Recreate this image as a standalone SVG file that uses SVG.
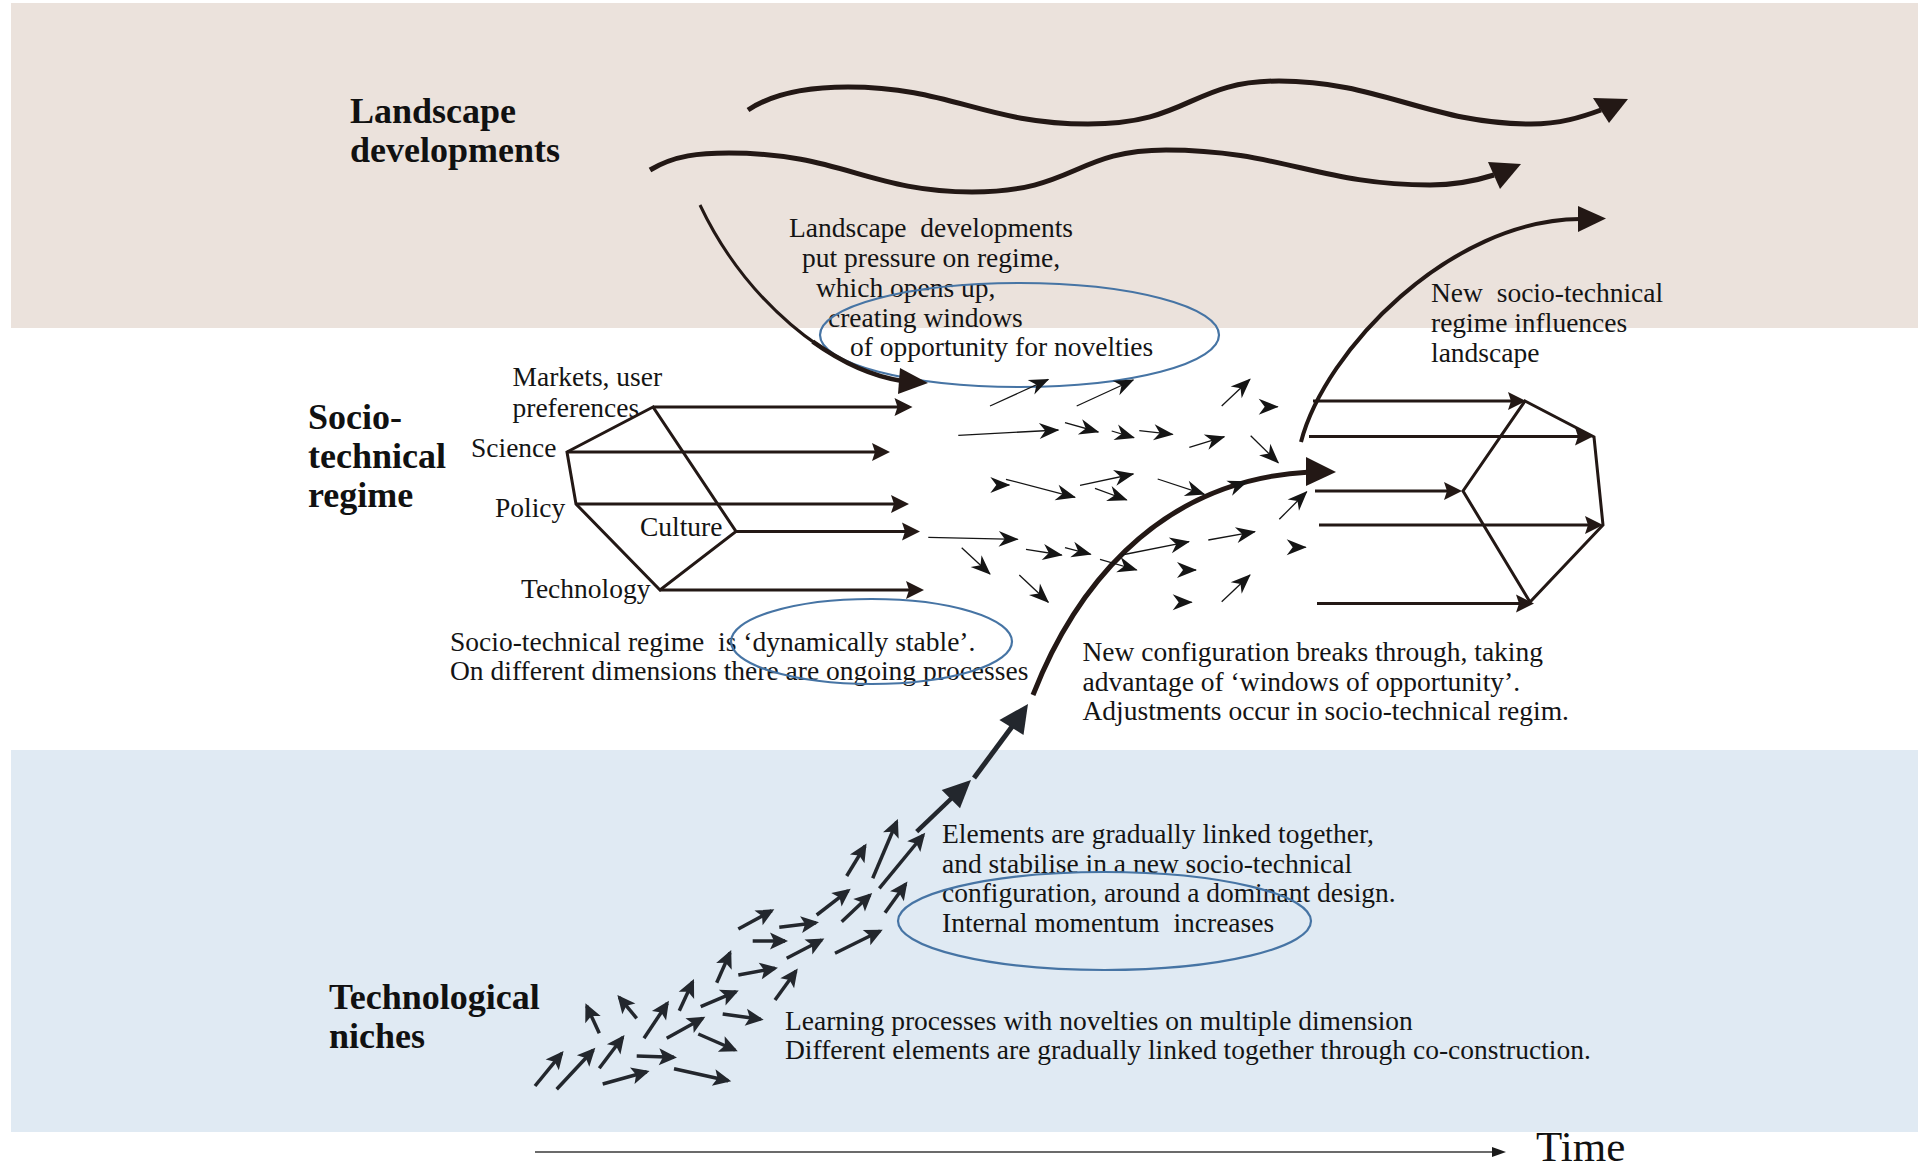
<svg xmlns="http://www.w3.org/2000/svg" width="1918" height="1170" viewBox="0 0 1918 1170">
<style>
.t{font-family:"Liberation Serif","Times New Roman",serif;font-size:27.5px;fill:#141414;white-space:pre}
.h{font-family:"Liberation Serif","Times New Roman",serif;font-size:36px;font-weight:bold;fill:#111}
.ink{fill:none;stroke:#231815}
.head{fill:#231815}
.frame{fill:none;stroke:#231815;stroke-width:3;stroke-linejoin:miter}
.ring{fill:none;stroke:#4674a4;stroke-width:2.2}
.mid line{stroke:#151515;stroke-width:1.3;marker-end:url(#mh)}
.nich line{stroke:#23272d;stroke-width:3.5;marker-end:url(#nh)}
.reg line{stroke:#231815;stroke-width:3;marker-end:url(#rh)}
</style>
<defs>
<marker id="mh" markerUnits="userSpaceOnUse" orient="auto" overflow="visible" markerWidth="1" markerHeight="1"><path d="M1,0 L-19,-8 L-13,0 L-19,8 Z" fill="#151515"/></marker>
<marker id="nh" markerUnits="userSpaceOnUse" orient="auto" overflow="visible" markerWidth="1" markerHeight="1"><path d="M3,0 L-15,-8.5 L-11,0 L-15,8.5 Z" fill="#23272d"/></marker>
<marker id="rh" markerUnits="userSpaceOnUse" orient="auto" overflow="visible" markerWidth="1" markerHeight="1"><path d="M4,0 L-14,-9 L-11,0 L-14,9 Z" fill="#231815"/></marker>
</defs>

<!-- layer bands -->
<rect x="0" y="0" width="1918" height="1170" fill="#ffffff"/>
<rect x="11" y="3" width="1907" height="325" fill="#ebe2dc"/>
<rect x="11" y="750" width="1907" height="382" fill="#e0eaf3"/>

<!-- level titles -->
<g id="landscape-title">
<text class="h" x="350" y="123">Landscape</text>
<text class="h" x="350" y="162">developments</text>
</g>
<g id="regime-title">
<text class="h" x="308" y="429">Socio-</text>
<text class="h" x="308" y="468">technical</text>
<text class="h" x="308" y="507">regime</text>
</g>
<g id="niches-title">
<text class="h" x="329" y="1009">Technological</text>
<text class="h" x="329" y="1048">niches</text>
</g>

<!-- explanatory notes -->
<g id="note-pressure">
<text class="t" x="789" y="237">Landscape  developments</text>
<text class="t" x="802" y="267">put pressure on regime,</text>
<text class="t" x="816" y="297">which opens up,</text>
<text class="t" x="828" y="326.5">creating windows</text>
<text class="t" x="850" y="356">of opportunity for novelties</text>
<ellipse class="ring" cx="1019.5" cy="335" rx="199.5" ry="52"/>
</g>
<g id="note-influence">
<text class="t" x="1431" y="302">New  socio-technical</text>
<text class="t" x="1431" y="332">regime influences</text>
<text class="t" x="1431" y="362">landscape</text>
</g>
<g id="note-stable">
<text class="t" x="450" y="651">Socio-technical regime  is ‘dynamically stable’.</text>
<text class="t" x="450" y="680">On different dimensions there are ongoing processes</text>
<ellipse class="ring" cx="871.5" cy="641.5" rx="140.5" ry="42.5"/>
</g>
<g id="note-breakthrough">
<text class="t" x="1082.5" y="661">New configuration breaks through, taking</text>
<text class="t" x="1082.5" y="691">advantage of ‘windows of opportunity’.</text>
<text class="t" x="1082.5" y="720">Adjustments occur in socio-technical regim.</text>
</g>
<g id="note-momentum">
<text class="t" x="942" y="843">Elements are gradually linked together,</text>
<text class="t" x="942" y="872.5">and stabilise in a new socio-technical</text>
<text class="t" x="942" y="902">configuration, around a dominant design.</text>
<text class="t" x="942" y="931.5">Internal momentum  increases</text>
<ellipse class="ring" cx="1104.5" cy="921" rx="206.5" ry="49"/>
</g>
<g id="note-learning">
<text class="t" x="785" y="1029.5">Learning processes with novelties on multiple dimension</text>
<text class="t" x="785" y="1058.5">Different elements are gradually linked together through co-construction.</text>
</g>

<!-- current regime: five dimensions -->
<g id="regime-old">
<text class="t" x="512.5" y="386">Markets, user</text>
<text class="t" x="512.5" y="417">preferences</text>
<text class="t" x="471" y="457">Science</text>
<text class="t" x="495" y="517">Policy</text>
<text class="t" x="640" y="536">Culture</text>
<text class="t" x="521" y="598">Technology</text>
<path class="frame" d="M653,407 L567,452 L576,504 L660,590 L736,531.5 Z"/>
<g class="reg">
<line x1="653" y1="407" x2="908.5" y2="407"/>
<line x1="567" y1="452" x2="886" y2="452"/>
<line x1="576" y1="504" x2="905" y2="504"/>
<line x1="736" y1="531.5" x2="916" y2="531.5"/>
<line x1="660" y1="590" x2="920" y2="590"/>
</g>
</g>

<!-- new regime -->
<g id="regime-new">
<path class="frame" d="M1525,401 L1594,437 L1603,525 L1530,602 L1463,491 Z"/>
<g class="reg">
<line x1="1313" y1="401" x2="1522" y2="401"/>
<line x1="1309" y1="436.5" x2="1589" y2="436.5"/>
<line x1="1315" y1="491" x2="1458" y2="491"/>
<line x1="1319" y1="525" x2="1599" y2="525"/>
<line x1="1317" y1="603.5" x2="1530" y2="603.5"/>
</g>
</g>

<g id="connectors">
<!-- landscape waves -->
<path class="ink" stroke-width="5" d="M748,110 C772,94 808,87 848,87 C950,87 985,124 1088,124 C1190,124 1190,81 1279,81 C1380,81 1430,124 1531,124 C1560,124 1582,117 1601,110"/>
<polygon class="head" points="1593,98 1628,99 1609,123"/>
<path class="ink" stroke-width="5" d="M650,170 C675,155 700,153 729,153 C840,153 870,192 972,192 C1075,192 1075,150 1166,150 C1280,150 1320,185 1430,185 C1455,185 1475,181 1494,175"/>
<polygon class="head" points="1488,162 1521,164 1500,189"/>

<!-- landscape pressure on regime -->
<path class="ink" stroke-width="3" d="M700,205 C745,300 830,370 902,381"/>
<path class="ink" stroke-width="4.5" d="M812.7,341.7 C842.3,362.8 873.2,376.6 902,381"/>
<polygon class="head" points="900,368 928,383 898,394"/>

<!-- new regime influences landscape -->
<path class="ink" stroke-width="4" d="M1301,442 C1325,350 1450,220 1580,219"/>
<polygon class="head" points="1578,206 1606,218.5 1578,232"/>

<!-- breakthrough -->
<path class="ink" stroke-width="5" d="M1033,695 C1070,600 1150,480 1310,472"/>
<polygon class="head" points="1306,457 1336,472 1306,486"/>
<line x1="974" y1="778" x2="1014" y2="724" stroke="#23272d" stroke-width="5"/>
<polygon points="999.4,720 1028,704 1023.5,735" fill="#23272d"/>
<line x1="916.7" y1="831.7" x2="955" y2="795" stroke="#23272d" stroke-width="4.5"/>
<polygon points="941.7,790 971,780 960,808.3" fill="#23272d"/>

<!-- niche elements -->
<g class="nich">
<line x1="535" y1="1086" x2="561.7" y2="1053.3"/>
<line x1="556.7" y1="1089.3" x2="593.3" y2="1050"/>
<line x1="599.3" y1="1068.3" x2="622.7" y2="1037.3"/>
<line x1="599.3" y1="1033.3" x2="586.7" y2="1006"/>
<line x1="636.7" y1="1018.3" x2="619.3" y2="997.3"/>
<line x1="644" y1="1038.3" x2="667.3" y2="1003.3"/>
<line x1="679.3" y1="1010.7" x2="692.7" y2="981.7"/>
<line x1="602.7" y1="1084" x2="646.7" y2="1071.7"/>
<line x1="636.7" y1="1056" x2="674" y2="1057.3"/>
<line x1="666.7" y1="1038.3" x2="702.7" y2="1018.3"/>
<line x1="674" y1="1068.7" x2="728.3" y2="1080.7"/>
<line x1="698.3" y1="1034" x2="735" y2="1050"/>
<line x1="700.7" y1="1006.7" x2="736" y2="991.7"/>
<line x1="722.7" y1="1014" x2="760.7" y2="1019.3"/>
<line x1="716.7" y1="982.7" x2="730" y2="952.7"/>
<line x1="738.3" y1="975" x2="775" y2="968.3"/>
<line x1="738.3" y1="929" x2="771.7" y2="910.7"/>
<line x1="752.7" y1="941" x2="785" y2="941"/>
<line x1="775" y1="1000" x2="796" y2="971"/>
<line x1="779.3" y1="927.3" x2="816" y2="922.7"/>
<line x1="786.7" y1="958.3" x2="821.7" y2="940"/>
<line x1="816.7" y1="915" x2="848.3" y2="890.7"/>
<line x1="841.7" y1="921.7" x2="870" y2="895"/>
<line x1="835" y1="953.3" x2="880" y2="931"/>
<line x1="846.7" y1="876" x2="865" y2="846"/>
<line x1="872.7" y1="878.3" x2="896.7" y2="821.7"/>
<line x1="879.3" y1="888.3" x2="923.3" y2="835"/>
<line x1="885" y1="912.7" x2="905.7" y2="884"/>
</g>

<!-- regime-level fluctuations -->
<g class="mid">
<line x1="990" y1="406" x2="1048.3" y2="379.3"/>
<line x1="1076.7" y1="406" x2="1133.3" y2="380"/>
<line x1="958.3" y1="435.3" x2="1058.3" y2="430"/>
<line x1="1065" y1="422.7" x2="1098.3" y2="432"/>
<line x1="1111.7" y1="431" x2="1134" y2="437.7"/>
<line x1="1221.7" y1="406" x2="1250" y2="379.3"/>
<line x1="1275" y1="406.7" x2="1277.7" y2="406.7"/>
<line x1="1139.3" y1="430.7" x2="1172.7" y2="434.3"/>
<line x1="1189.3" y1="447.3" x2="1224.3" y2="436.7"/>
<line x1="1250.7" y1="435.7" x2="1278.3" y2="462.7"/>
<line x1="1007" y1="485" x2="1009.3" y2="485"/>
<line x1="1006" y1="479.3" x2="1075" y2="497.3"/>
<line x1="1080" y1="485.3" x2="1133.3" y2="474"/>
<line x1="1095" y1="488.3" x2="1126.7" y2="500"/>
<line x1="1157.7" y1="479" x2="1204.3" y2="494.3"/>
<line x1="1230" y1="488" x2="1247" y2="481.5"/>
<line x1="1279.3" y1="519.3" x2="1306.7" y2="491.7"/>
<line x1="928.3" y1="537.3" x2="1017.7" y2="539.3"/>
<line x1="961.7" y1="547.7" x2="990" y2="574"/>
<line x1="1026" y1="549.3" x2="1061.7" y2="555"/>
<line x1="1065" y1="547.7" x2="1090.7" y2="554.3"/>
<line x1="1019.3" y1="575" x2="1048.3" y2="602.3"/>
<line x1="1100" y1="559.3" x2="1136.7" y2="570"/>
<line x1="1121.7" y1="555" x2="1189" y2="541.7"/>
<line x1="1208.3" y1="540" x2="1255" y2="531.7"/>
<line x1="1303" y1="547.3" x2="1305.7" y2="547.3"/>
<line x1="1193.5" y1="570" x2="1196" y2="570"/>
<line x1="1221.7" y1="601.7" x2="1250" y2="575"/>
<line x1="1189" y1="602.3" x2="1191.7" y2="602.3"/>
</g>

<!-- time axis -->
<line x1="535" y1="1152" x2="1493" y2="1152" stroke="#3a3a3a" stroke-width="1.6"/>
<polygon points="1492,1147 1506,1152 1492,1157" fill="#1a1a1a"/>
</g>
<text x="1536" y="1161" font-family="Liberation Serif, Times New Roman, serif" font-size="43" fill="#111">Time</text>
</svg>
